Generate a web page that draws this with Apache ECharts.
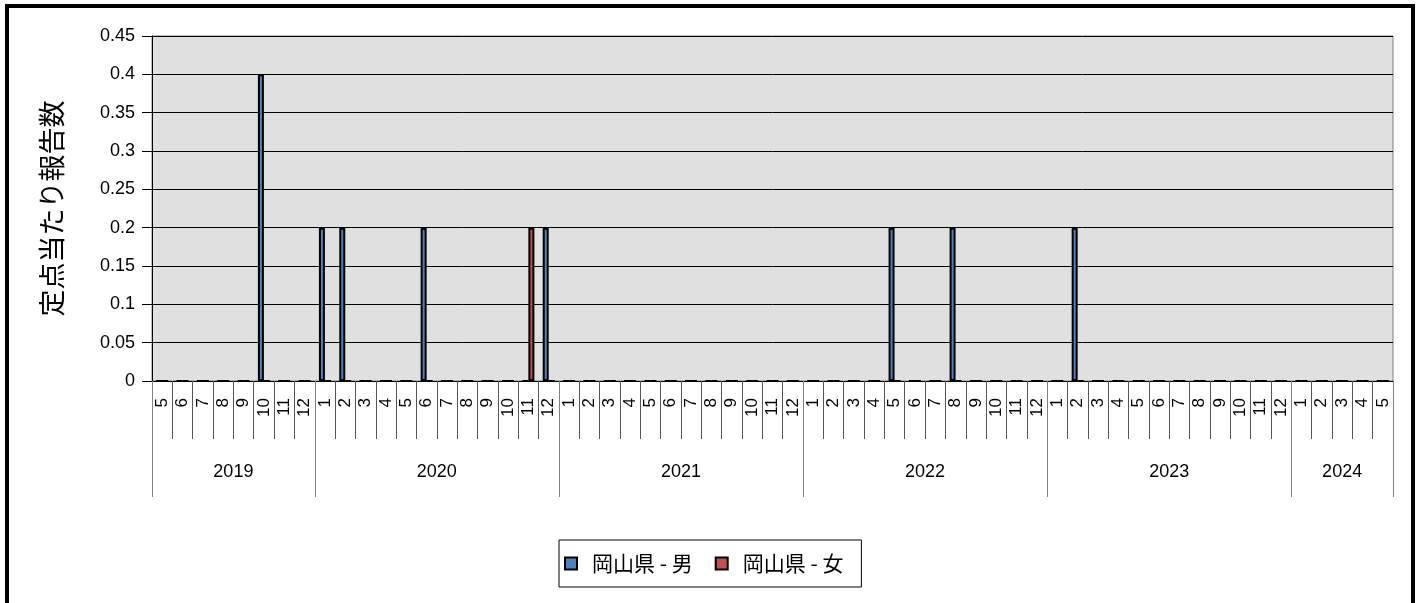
<!DOCTYPE html>
<html>
<head>
<meta charset="utf-8">
<script src="https://cdn.jsdelivr.net/npm/echarts@6/dist/echarts.min.js"></script>
<style>
html,body{margin:0;padding:0;background:#fff;}
#chart{position:absolute;left:0;top:0;width:1424px;height:603px;}
#frame{position:absolute;left:5px;top:4px;width:1402px;height:700px;border:4px solid #000;pointer-events:none;}
</style>
</head>
<body>
<div id="chart"></div>
<div id="frame"></div>
<script>
// ---- data ----
const years = ['2019', '2020', '2021', '2022', '2023', '2024'];
const yearMonths = [
  [5, 6, 7, 8, 9, 10, 11, 12],
  [1, 2, 3, 4, 5, 6, 7, 8, 9, 10, 11, 12],
  [1, 2, 3, 4, 5, 6, 7, 8, 9, 10, 11, 12],
  [1, 2, 3, 4, 5, 6, 7, 8, 9, 10, 11, 12],
  [1, 2, 3, 4, 5, 6, 7, 8, 9, 10, 11, 12],
  [1, 2, 3, 4, 5]
];
const seriesNames = ['岡山県 - 男', '岡山県 - 女'];
const maleValues = [
  0, 0, 0, 0, 0, 0.4, 0, 0,
  0.2, 0.2, 0, 0, 0, 0.2, 0, 0, 0, 0, 0, 0.2,
  0, 0, 0, 0, 0, 0, 0, 0, 0, 0, 0, 0,
  0, 0, 0, 0, 0.2, 0, 0, 0.2, 0, 0, 0, 0,
  0, 0.2, 0, 0, 0, 0, 0, 0, 0, 0, 0, 0,
  0, 0, 0, 0, 0
];
const femaleValues = [
  0, 0, 0, 0, 0, 0, 0, 0,
  0, 0, 0, 0, 0, 0, 0, 0, 0, 0, 0.2, 0,
  0, 0, 0, 0, 0, 0, 0, 0, 0, 0, 0, 0,
  0, 0, 0, 0, 0, 0, 0, 0, 0, 0, 0, 0,
  0, 0, 0, 0, 0, 0, 0, 0, 0, 0, 0, 0,
  0, 0, 0, 0, 0
];
const yAxisName = '定点当たり報告数';

// ---- derived ----
const categories = [];
const monthLabels = [];
const boundaries = [0];
const mids = [];
let acc = 0;
yearMonths.forEach((ms, i) => {
  ms.forEach(m => { categories.push(years[i] + '-' + m); monthLabels.push(String(m)); });
  mids.push(acc + ms.length / 2);
  acc += ms.length;
  boundaries.push(acc);
});
const total = acc;

const FONT = '"Liberation Sans", "Noto Sans CJK JP", sans-serif';
const chart = echarts.init(document.getElementById('chart'));
chart.setOption({
  animation: false,
  textStyle: { fontFamily: FONT, color: '#000' },
  grid: {
    left: 152, right: 31, top: 36, bottom: 222,
    show: true, backgroundColor: '#e0e0e0', borderColor: '#808080', borderWidth: 1
  },
  legend: {
    left: 559, top: 540,
    padding: [13, 18, 13, 5],
    borderColor: '#000', borderWidth: 1,
    itemWidth: 12, itemHeight: 12, itemGap: 22,
    icon: 'rect',
    itemStyle: { borderColor: '#000', borderWidth: 2 },
    textStyle: { fontSize: 21, color: '#000', fontFamily: '"Noto Sans CJK JP", sans-serif', padding: [0, 0, 0, 10] },
    data: seriesNames
  },
  xAxis: [
    {
      type: 'category',
      data: categories,
      position: 'bottom',
      axisLine: { show: true, lineStyle: { color: '#000', width: 1 } },
      axisTick: { show: true, interval: 0, length: 58, lineStyle: { color: '#555' } },
      axisLabel: {
        interval: 0, rotate: 90, margin: 17, fontSize: 17, color: '#000',
        formatter: (v, i) => monthLabels[i]
      },
      splitLine: { show: false }
    },
    {
      type: 'value',
      min: 0, max: total,
      position: 'bottom',
      axisLine: { show: false },
      axisTick: { show: true, customValues: boundaries, length: 116, lineStyle: { color: '#808080' } },
      axisLabel: {
        customValues: mids, margin: 82, fontSize: 18, color: '#000',
        formatter: v => { const k = mids.findIndex(m => Math.abs(m - v) < 1e-6); return k >= 0 ? years[k] : ''; }
      },
      splitLine: { show: false }
    }
  ],
  yAxis: {
    type: 'value',
    min: 0, max: 0.45, interval: 0.05,
    name: yAxisName,
    nameLocation: 'middle',
    nameGap: 87,
    nameTextStyle: { fontSize: 27, color: '#000', fontFamily: '"Noto Sans CJK JP", sans-serif' },
    axisLine: { show: true, lineStyle: { color: '#000' } },
    axisTick: { show: true, length: 10, lineStyle: { color: '#000' } },
    axisLabel: {
      margin: 17, fontSize: 18, color: '#000',
      formatter: v => String(Math.round(v * 100) / 100)
    },
    splitLine: { show: true, lineStyle: { color: '#000', width: 1 } }
  },
  series: [
    {
      name: seriesNames[0], type: 'bar', xAxisIndex: 0,
      data: maleValues, barWidth: 6, barGap: '0%',
      itemStyle: { color: '#4f81bd', borderColor: '#000', borderWidth: 2 }
    },
    {
      name: seriesNames[1], type: 'bar', xAxisIndex: 0,
      data: femaleValues, barWidth: 6, barGap: '0%',
      itemStyle: { color: '#c0504d', borderColor: '#000', borderWidth: 2 }
    }
  ]
});
</script>
</body>
</html>
